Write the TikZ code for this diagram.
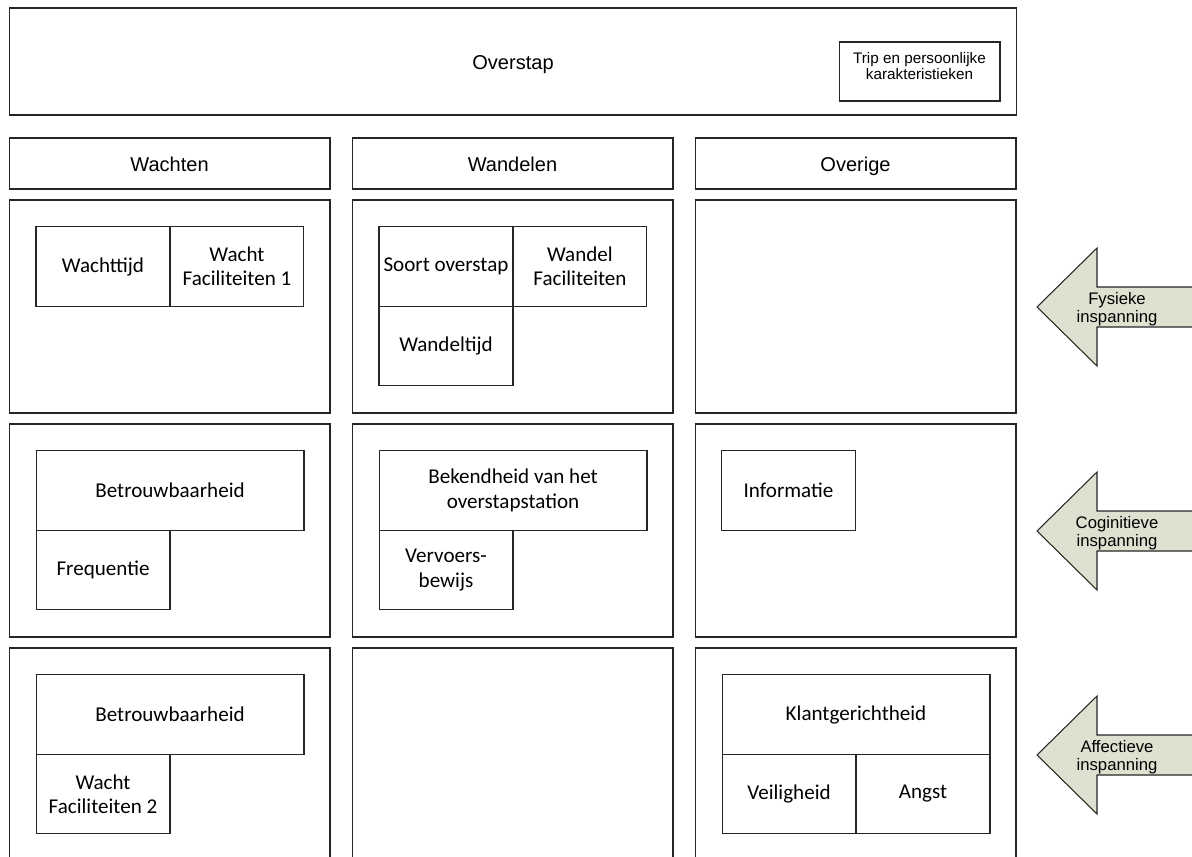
\documentclass[tikz,border=0pt]{standalone}
\usepackage{fontspec}
\setmainfont{Carlito}
\newfontfamily\arialfont{Liberation Sans}
\usetikzlibrary{positioning}
\definecolor{Effort}{HTML}{DDE1CF}
\definecolor{Edge}{HTML}{262626}

\begin{document}
\begin{tikzpicture}[x=0.02cm,y=-0.02cm,
    every node/.style={outer sep=0pt,inner sep=2pt},
    frame/.style={draw=Edge,line width=0.6pt,minimum width=6.42cm,text height=10pt,text depth=1pt,font=\arialfont\fontsize{11.4}{13.5}\selectfont},
    item/.style={draw=Edge,line width=0.6pt,align=center,minimum width=2.68cm,minimum height=1.59cm,font=\fontsize{12}{13.8}\selectfont},
    wide/.style={item,minimum width=5.36cm},
    effort/.style={draw=Edge,fill=Effort,line width=0.6pt},
    effortlabel/.style={align=center,font=\arialfont\fontsize{9.5}{10.2}\selectfont}]
    \useasboundingbox (0,0) rectangle (1192,857);
    % kop
    \node[frame,minimum width=20.16cm,minimum height=2.14cm] (overstap) at (513,61.5) {Overstap};
    \node[draw=Edge,line width=0.6pt,minimum width=3.22cm,minimum height=1.18cm] (trip) at (919.5,71.5) {};
    \node[align=center,font=\arialfont\fontsize{8.7}{9.6}\selectfont] (tripText) at (919.5,66) {Trip en persoonlijke\\karakteristieken};
    \node[frame,minimum height=1.02cm] (wachten) at (169.5,163.5) {Wachten};
    \node[frame,minimum height=1.02cm] (wandelen) at (512.5,163.5) {Wandelen};
    \node[frame,minimum height=1.02cm] (overige) at (855.5,163.5) {Overige};
    % vakken
    \node[frame,minimum height=4.26cm] (wachtenA) at (169.5,306.5) {};
    \node[frame,minimum height=4.26cm] (wandelenA) at (512.5,306.5) {};
    \node[frame,minimum height=4.26cm] (overigeA) at (855.5,306.5) {};
    \node[frame,minimum height=4.26cm] (wachtenB) at (169.5,530.5) {};
    \node[frame,minimum height=4.26cm] (wandelenB) at (512.5,530.5) {};
    \node[frame,minimum height=4.26cm] (overigeB) at (855.5,530.5) {};
    \node[frame,minimum height=4.26cm] (wachtenC) at (169.5,754.5) {};
    \node[frame,minimum height=4.26cm] (wandelenC) at (512.5,754.5) {};
    \node[frame,minimum height=4.26cm] (overigeC) at (855.5,754.5) {};
    % fysiek
    \node[item] (wachttijd) at (103,266.5) {Wachttijd};
    \node[item,right=0pt of wachttijd] (wachtfac1) {Wacht\\Faciliteiten 1};
    \node[item] (soort) at (446,266.5) {Soort overstap};
    \node[item,right=0pt of soort] (wandelfac) {Wandel\\Faciliteiten};
    \node[item,below=0pt of soort] (wandeltijd) {Wandeltijd};
    % cognitief
    \node[wide] (betrouw1) at (170,490.5) {Betrouwbaarheid};
    \node[item,below right=0pt of betrouw1.south west] (frequentie) {Frequentie};
    \node[wide] (bekendheid) at (513,490.5) {Bekendheid van het\\overstapstation};
    \node[item,below right=0pt of bekendheid.south west] (vervoer) {Vervoers-\\bewijs};
    \node[item] (informatie) at (788.5,490.5) {Informatie};
    % affectief
    \node[wide] (betrouw2) at (170,714.5) {Betrouwbaarheid};
    \node[item,below right=0pt of betrouw2.south west] (wachtfac2) {Wacht\\Faciliteiten 2};
    \node[wide] (klant) at (856,714.5) {Klantgerichtheid};
    \node[item,below right=0pt of klant.south west] (veiligheid) {Veiligheid};
    \node[item,right=0pt of veiligheid] (angst) {Angst};
    % pijlen
    \coordinate (fysiek) at (1037,307);
    \coordinate (cognitief) at (1037,531);
    \coordinate (affectief) at (1037,755);
    \draw[effort] (fysiek) -- ++(60,-59) -- ++(0,39) -- ++(110,0) -- ++(0,40) -- ++(-110,0) -- ++(0,39) -- cycle;
    \draw[effort] (cognitief) -- ++(60,-59) -- ++(0,39) -- ++(110,0) -- ++(0,40) -- ++(-110,0) -- ++(0,39) -- cycle;
    \draw[effort] (affectief) -- ++(60,-59) -- ++(0,39) -- ++(110,0) -- ++(0,40) -- ++(-110,0) -- ++(0,39) -- cycle;
    \node[effortlabel] (fysiekLabel) at (1117,309) {Fysieke\\inspanning};
    \node[effortlabel] (cognitiefLabel) at (1117,533) {Coginitieve\\inspanning};
    \node[effortlabel] (affectiefLabel) at (1117,757) {Affectieve\\inspanning};
\end{tikzpicture}
\end{document}
